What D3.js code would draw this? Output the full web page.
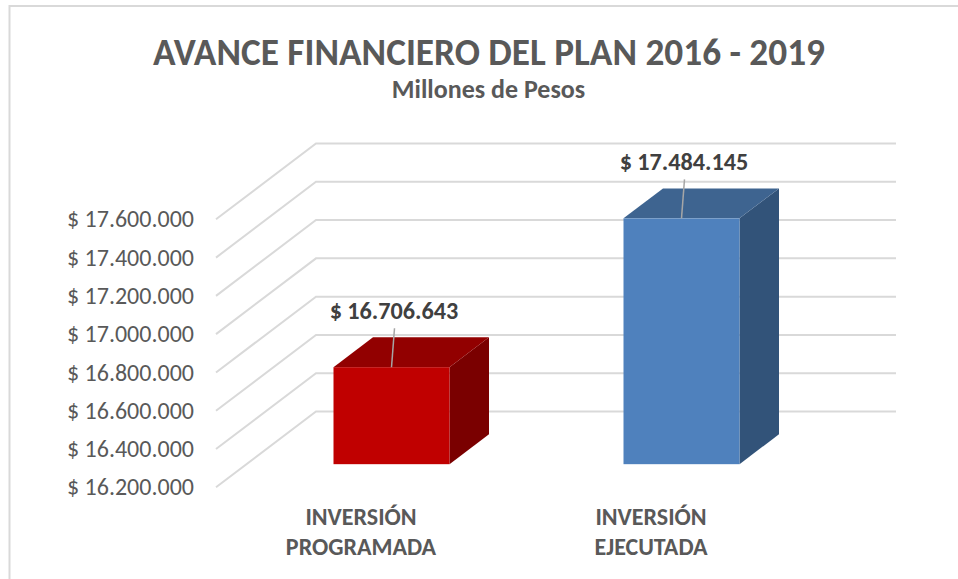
<!DOCTYPE html>
<html>
<head>
<meta charset="utf-8">
<script src="https://cdn.jsdelivr.net/npm/d3@7"></script>
<style>
  html, body { margin: 0; padding: 0; background: #fff; }
  svg { display: block; font-family: Carlito, Calibri, Lato, sans-serif; }
  .axis path, .axis line { display: none; }
  .axis text { font-family: Carlito, Calibri, Lato, sans-serif; font-size: 24px; fill: #595959; }
</style>
</head>
<body>
<svg id="chart"></svg>
<script>
// Avance financiero chart (3D column look)
const categories = ['INVERSIÓN PROGRAMADA', 'INVERSIÓN EJECUTADA'];
const values = [16706643, 17484145];
const yTicks = [16200000, 16400000, 16600000, 16800000, 17000000, 17200000, 17400000, 17600000];
const faceColors = ['#c00000', '#4f81bd'];
const topColors = ['#920000', '#3e6490'];
const sideColors = ['#7a0000', '#325379'];

const width = 958, height = 579;
const plot = {left: 216, right: 796, top: 219.3, bottom: 487.3};
const depth = {x: 100, y: -75.8, barFront: 0.305, barBack: 0.70};

const svg = d3.select('#chart').attr('width', width).attr('height', height);

// chart area frame, only top and left show in the picture
svg.append('path')
    .attr('d', `M${width},6H9.5V${height}`)
    .attr('fill', 'none')
    .attr('stroke', '#d9d9d9')
    .attr('stroke-width', 2);

const yScale = d3.scaleLinear()
    .domain([yTicks[0], yTicks[yTicks.length - 1]])
    .range([plot.bottom, plot.top]);

const xScale = d3.scaleBand()
    .domain(categories)
    .range([plot.left, plot.right])
    .paddingInner(0.6)
    .paddingOuter(0.3);

// same band scale without padding, for the category labels
const xLabel = d3.scaleBand()
    .domain(categories)
    .range([plot.left, plot.right]);

// project a (x, value) point back to a depth fraction of the floor
const px = (x, d) => x + depth.x * d;
const py = (v, d) => yScale(v) + depth.y * d;

// Gridlines
svg.append('g').selectAll('path')
    .data(yTicks)
    .join('path')
    .attr('d', d => `M${px(plot.left, 0)},${py(d, 0)}L${px(plot.left, 1)},${py(d, 1)}L${px(plot.right, 1)},${py(d, 1)}`)
    .attr('fill', 'none')
    .attr('stroke', '#d9d9d9')
    .attr('stroke-width', 2);

// Y axis
const locale = d3.formatLocale({decimal: ',', thousands: '.', grouping: [3], currency: ['$ ', '']});
svg.append('g')
    .attr('class', 'axis')
    .attr('transform', `translate(${plot.left},0)`)
    .call(d3.axisLeft(yScale)
        .tickValues(yTicks)
        .tickSize(0)
        .tickPadding(22)
        .tickFormat(locale.format('$,')));

// Bars
const base = yTicks[0];
const bars = svg.append('g').selectAll('g')
    .data(categories.map((c, i) => ({c, v: values[i], i})))
    .join('g');

const poly = pts => 'M' + pts.map(p => p.join(',')).join('L') + 'Z';

bars.append('path') // side
    .attr('fill', d => sideColors[d.i])
    .attr('d', d => {
        const x1 = xScale(d.c) + xScale.bandwidth();
        return poly([
            [px(x1, depth.barFront), py(d.v, depth.barFront)],
            [px(x1, depth.barBack), py(d.v, depth.barBack)],
            [px(x1, depth.barBack), py(base, depth.barBack)],
            [px(x1, depth.barFront), py(base, depth.barFront)]
        ]);
    });

bars.append('path') // top
    .attr('fill', d => topColors[d.i])
    .attr('d', d => {
        const x0 = xScale(d.c), x1 = x0 + xScale.bandwidth();
        return poly([
            [px(x0, depth.barFront), py(d.v, depth.barFront)],
            [px(x0, depth.barBack), py(d.v, depth.barBack)],
            [px(x1, depth.barBack), py(d.v, depth.barBack)],
            [px(x1, depth.barFront), py(d.v, depth.barFront)]
        ]);
    });

bars.append('rect') // front
    .attr('fill', d => faceColors[d.i])
    .attr('x', d => px(xScale(d.c), depth.barFront))
    .attr('y', d => py(d.v, depth.barFront))
    .attr('width', xScale.bandwidth())
    .attr('height', d => py(base, depth.barFront) - py(d.v, depth.barFront));

// Leader lines and data labels
const barMid = d => px(xScale(d.c) + xScale.bandwidth() / 2, depth.barFront);

bars.append('line')
    .attr('x1', barMid)
    .attr('y1', d => py(d.v, depth.barFront))
    .attr('x2', d => barMid(d) + 3)
    .attr('y2', d => py(d.v, depth.barFront) - 39)
    .attr('stroke', '#a6a6a6')
    .attr('stroke-width', 1.5);

bars.append('text')
    .attr('x', d => barMid(d) + 2.5)
    .attr('y', d => py(d.v, depth.barFront) - 57)
    .attr('dy', '0.35em')
    .attr('text-anchor', 'middle')
    .attr('font-size', 24.2)
    .attr('font-weight', 700)
    .attr('fill', '#404040')
    .text(d => locale.format('$,')(d.v));

// Category labels
const catLabels = svg.append('g').selectAll('text')
    .data(categories)
    .join('text')
    .attr('text-anchor', 'middle')
    .attr('font-size', 24)
    .attr('font-weight', 700)
    .attr('fill', '#595959');

catLabels.selectAll('tspan')
    .data(d => d.split(' ').map(t => ({t, x: xLabel(d) + xLabel.bandwidth() / 2})))
    .join('tspan')
    .attr('x', d => d.x)
    .attr('y', (d, i) => 517 + i * 30)
    .attr('dy', '0.35em')
    .text(d => d.t);

// Titles
svg.append('text')
    .attr('x', 489)
    .attr('y', 52)
    .attr('dy', '0.35em')
    .attr('text-anchor', 'middle')
    .attr('font-size', 37.3)
    .attr('font-weight', 700)
    .attr('fill', '#595959')
    .text('AVANCE FINANCIERO DEL PLAN 2016 - 2019');

svg.append('text')
    .attr('x', 488.5)
    .attr('y', 89)
    .attr('dy', '0.35em')
    .attr('text-anchor', 'middle')
    .attr('font-size', 26)
    .attr('font-weight', 700)
    .attr('fill', '#595959')
    .text('Millones de Pesos');
</script>
</body>
</html>
